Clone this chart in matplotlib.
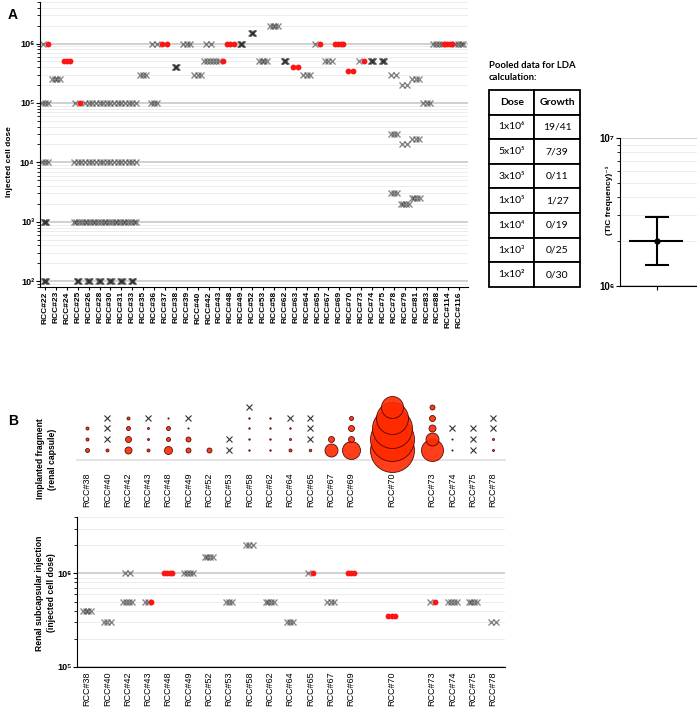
import matplotlib
matplotlib.use("Agg")
import matplotlib.pyplot as plt
import numpy as np
from matplotlib.ticker import LogLocator, NullFormatter

plt.rcParams['font.family'] = ['Liberation Sans', 'DejaVu Sans']

#--------------------------------------------------------------------
# panel A: cell-dose titration per patient (crosses = no growth, red = growth)
a_cases = ['RCC#22', 'RCC#23', 'RCC#24', 'RCC#25', 'RCC#26', 'RCC#28', 'RCC#30', 'RCC#31',
           'RCC#33', 'RCC#35', 'RCC#36', 'RCC#37', 'RCC#38', 'RCC#39', 'RCC#40', 'RCC#42',
           'RCC#43', 'RCC#48', 'RCC#49', 'RCC#52', 'RCC#53', 'RCC#58', 'RCC#62', 'RCC#63',
           'RCC#64', 'RCC#65', 'RCC#67', 'RCC#69', 'RCC#70', 'RCC#73', 'RCC#74', 'RCC#75',
           'RCC#78', 'RCC#79', 'RCC#81', 'RCC#83', 'RCC#88', 'RCC#114', 'RCC#116']

a_grp_case = ['RCC#22'] * 5 + ['RCC#23', 'RCC#24'] + ['RCC#25'] * 4 \
    + ['RCC#26'] * 4 + ['RCC#28'] * 4 + ['RCC#30'] * 4 + ['RCC#31'] * 4 + ['RCC#33'] * 4 \
    + ['RCC#35', 'RCC#36', 'RCC#36', 'RCC#37', 'RCC#38', 'RCC#39', 'RCC#40', 'RCC#42', 'RCC#42',
       'RCC#43', 'RCC#48', 'RCC#49', 'RCC#52', 'RCC#53', 'RCC#58', 'RCC#62', 'RCC#63', 'RCC#64',
       'RCC#65', 'RCC#67', 'RCC#69', 'RCC#70', 'RCC#73', 'RCC#74', 'RCC#75'] \
    + ['RCC#78'] * 3 + ['RCC#79'] * 3 + ['RCC#81'] * 3 + ['RCC#83', 'RCC#88', 'RCC#114', 'RCC#116']
a_grp_dose = [1e6, 1e5, 1e4, 1e3, 1e2, 2.5e5, 5e5, 1e5, 1e4, 1e3, 1e2] \
    + [1e5, 1e4, 1e3, 1e2] * 5 \
    + [3e5, 1e6, 1e5, 1e6, 4e5, 1e6, 3e5, 1e6, 5e5,
       5e5, 1e6, 1e6, 1.5e6, 5e5, 2e6, 5e5, 4e5, 3e5,
       1e6, 5e5, 1e6, 3.5e5, 5e5, 5e5, 5e5] \
    + [3e5, 3e4, 3e3, 2e5, 2e4, 2e3, 2.5e5, 2.5e4, 2.5e3, 1e5, 1e6, 1e6, 1e6]
a_grp_neg = [1, 3, 3, 5, 5, 4, 0, 1, 3, 4, 5] \
    + [3, 3, 4, 5] * 5 \
    + [3, 2, 3, 0, 5, 3, 3, 2, 4,
       2, 0, 5, 5, 4, 4, 5, 0, 3,
       1, 3, 0, 0, 1, 5, 5] \
    + [2, 3, 3, 2, 2, 4, 3, 3, 4, 3, 4, 0, 4]
a_grp_pos = [1, 0, 0, 0, 0, 0, 3, 1, 0, 0, 0] \
    + [0, 0, 0, 0] * 5 \
    + [0, 0, 0, 2, 0, 0, 0, 0, 0,
       1, 3, 0, 0, 0, 0, 0, 2, 0,
       1, 0, 4, 2, 1, 0, 0] \
    + [0, 0, 0, 0, 0, 0, 0, 0, 0, 0, 0, 4, 0]

# pooled table for LDA
lda_dose = ['1x10⁶', '5x10⁵', '3x10⁵', '1x10⁵', '1x10⁴', '1x10³', '1x10²']
lda_growth = ['19/41', '7/39', '0/11', '1/27', '0/19', '0/25', '0/30']

# TIC frequency estimate (inverse) with confidence interval
tic_est, tic_lo, tic_hi = 2.0e6, 1.39e6, 2.93e6

#--------------------------------------------------------------------
# panel B ('' = empty slot on the axis)
b_cases = ['RCC#38', 'RCC#40', 'RCC#42', 'RCC#43', 'RCC#48', 'RCC#49', 'RCC#52', 'RCC#53',
           'RCC#58', 'RCC#62', 'RCC#64', 'RCC#65', 'RCC#67', 'RCC#69', '', 'RCC#70', '',
           'RCC#73', 'RCC#74', 'RCC#75', 'RCC#78']
# bubble diameter (px) per implanted fragment, bottom to top; 0 = no growth
frag_sizes = [[4, 3, 3], [3, 0, 0, 0], [7, 6, 4, 3], [3, 2, 2, 0], [8, 4, 4, 1.2],
              [5, 5, 1.2, 0], [5], [0, 0], [1.5, 1.5, 1.5, 1.5, 0], [1.5, 1.5, 1.5, 1.5],
              [3, 2, 1.5, 0], [2.5, 0, 0, 0], [13, 6], [18, 6, 6, 4], [],
              [44, 44, 40, 32, 22], [], [22, 13, 7, 6, 5], [1.2, 1.2, 0], [0, 0, 0],
              [2, 2, 0, 0]]

b_grp_case = ['RCC#38', 'RCC#40', 'RCC#42', 'RCC#42', 'RCC#43', 'RCC#48', 'RCC#49', 'RCC#52',
              'RCC#53', 'RCC#58', 'RCC#62', 'RCC#64', 'RCC#65', 'RCC#67', 'RCC#69', 'RCC#70',
              'RCC#73', 'RCC#74', 'RCC#75', 'RCC#78']
b_grp_dose = [4e5, 3e5, 1e6, 5e5, 5e5, 1e6, 1e6, 1.5e6,
              5e5, 2e6, 5e5, 3e5, 1e6, 5e5, 1e6, 3.5e5,
              5e5, 5e5, 5e5, 3e5]
b_grp_neg = [4, 3, 2, 4, 2, 0, 4, 4, 3, 3, 4, 3, 1, 3, 0, 0, 1, 4, 4, 2]
b_grp_pos = [0, 0, 0, 0, 1, 4, 0, 0, 0, 0, 0, 0, 1, 0, 3, 3, 1, 0, 0, 0]

#--------------------------------------------------------------------
W, H = 697, 709
fig = plt.figure(figsize=(W / 100, H / 100), dpi=100)

SUP = str.maketrans('0123456789-', '⁰¹²³⁴⁵⁶⁷⁸⁹⁻')


def pow10(e):
    return '10' + str(e).translate(SUP)


def add_ax(l, t, r, b):
    # axes from pixel box (left, top, right, bottom)
    return fig.add_axes([l / W, 1 - b / H, (r - l) / W, (b - t) / H])


def style_log(ax, exps, fs=6.5):
    ax.set_yscale('log')
    ax.set_yticks([10.0 ** e for e in exps])
    ax.set_yticklabels([pow10(e) for e in exps], fontsize=fs, fontweight='bold')
    ax.yaxis.set_minor_locator(LogLocator(base=10, subs=np.arange(2, 10)))
    ax.yaxis.set_minor_formatter(NullFormatter())
    ax.grid(axis='y', which='major', color='#c8c8c8', lw=1.2)
    ax.grid(axis='y', which='minor', color='#ededed', lw=0.7)
    ax.set_axisbelow(True)
    for s in ['top', 'right']:
        ax.spines[s].set_visible(False)
    ax.tick_params(axis='y', which='major', length=3, width=0.8, pad=1)
    ax.tick_params(axis='y', which='minor', length=2, width=0.6)


def draw_groups(ax, cases, g_case, g_dose, g_neg, g_pos, px_unit):
    for c, d, nn, npos in zip(g_case, g_dose, g_neg, g_pos):
        x0 = cases.index(c)
        n = nn + npos
        if n == 1:
            half = 0
        elif n >= 5:
            half = 1.2
        else:
            half = 1.7 + 0.8 * (n - 1)
        xs = x0 + np.linspace(-half, half, n) / px_unit
        if nn:
            ax.plot(xs[:nn], [d] * nn, 'x', ls='none', color='#2b2b2b', alpha=0.55,
                    ms=4, mew=1.0, zorder=3)
        if npos:
            ax.plot(xs[nn:], [d] * npos, 'o', ls='none', color='#ff1414', ms=4.2,
                    mec='none', zorder=4)


#--------------------------------------------------------------------
# A: main dose plot
ax_a = add_ax(40, 2, 468, 287)
style_log(ax_a, [2, 3, 4, 5, 6])
ax_a.set_ylim(80, 5e6)
ax_a.set_xlim(-0.46, len(a_cases) - 0.2)
ax_a.set_xticks(range(len(a_cases)))
ax_a.set_xticklabels(a_cases, rotation=90, fontsize=6, fontweight='bold')
ax_a.tick_params(axis='x', length=2, pad=1)
draw_groups(ax_a, a_cases, a_grp_case, a_grp_dose, a_grp_neg, a_grp_pos, 10.9)
fig.text(10 / W, 1 - 162 / H, 'Injected cell dose', rotation=90, ha='center', va='center',
         fontsize=6, fontweight='bold')

# pooled table
fig.text(489 / W, 1 - 61 / H, 'Pooled data for LDA\ncalculation:', ha='left', va='top',
         fontsize=6.8, fontweight='bold', family=['Lato', 'DejaVu Sans'], linespacing=1.5)
ax_tab = add_ax(489, 90, 580, 287)
ax_tab.axis('off')
tab = ax_tab.table(cellText=[[d, g] for d, g in zip(lda_dose, lda_growth)],
                   colLabels=['Dose', 'Growth'], cellLoc='center', bbox=[0, 0, 1, 1])
tab.auto_set_font_size(False)
tab.set_fontsize(7.5)
for (r, c), cell in tab.get_celld().items():
    cell.set_linewidth(1.3)
    cell.get_text().set_fontfamily(['Lato', 'DejaVu Sans'])
    if r == 0:
        cell.get_text().set_fontweight('bold')

# TIC frequency
ax_t = add_ax(620, 138, 697, 286)
style_log(ax_t, [6, 7], fs=7)
ax_t.set_ylim(1e6, 1e7)
ax_t.set_xlim(-1, 1.08)
ax_t.set_xticks([0])
ax_t.set_xticklabels([''])
ax_t.tick_params(axis='x', length=3)
ax_t.errorbar([0], [tic_est], yerr=[[tic_est - tic_lo], [tic_hi - tic_est]], fmt='o',
              color='black', ms=3.5, lw=1.5, capsize=8.5, capthick=1.5, zorder=4)
ax_t.hlines(tic_est, -0.75, 0.7, color='black', lw=1.5, zorder=4)
fig.text(609 / W, 1 - 200 / H, '(TIC frequency)⁻¹', rotation=90, ha='center', va='center',
         fontsize=6, fontweight='bold')

#--------------------------------------------------------------------
# B top: implanted fragments
ax_bt = add_ax(77, 395, 505, 460)
ax_bt.set_xlim(-0.49, len(b_cases) - 0.41)
ax_bt.set_ylim(0.074, 6.09)
for s in ['top', 'right', 'left']:
    ax_bt.spines[s].set_visible(False)
ax_bt.spines['bottom'].set_color('#e0e0e0')
ax_bt.spines['bottom'].set_linewidth(1.2)
ax_bt.set_yticks([])
b_ticks = [i for i, c in enumerate(b_cases) if c]
ax_bt.set_xticks(b_ticks)
ax_bt.set_xticklabels([b_cases[i] for i in b_ticks], rotation=90, fontsize=6.5)
ax_bt.tick_params(axis='x', length=0, pad=9)
for i, sizes in enumerate(frag_sizes):
    for row, d in enumerate(sizes, start=1):
        if d == 0:
            ax_bt.plot(i, row, 'x', color='#333333', ms=5, mew=0.8, clip_on=False, zorder=3)
        else:
            ax_bt.scatter(i, row, s=(d * 0.72) ** 2, color='#ff2a00', alpha=0.9,
                          edgecolors=(0.25, 0, 0, 0.45), linewidths=0.6, clip_on=False, zorder=4)
fig.text(46.5 / W, 1 - 459 / H, 'Implanted fragment\n(renal capsule)', rotation=90,
         ha='center', va='center', fontsize=6.2, fontweight='bold', linespacing=1.5)

# B bottom: renal subcapsular injection
ax_bb = add_ax(77, 517, 505, 667)
style_log(ax_bb, [5, 6])
ax_bb.set_ylim(1e5, 4e6)
ax_bb.set_xlim(-0.49, len(b_cases) - 0.41)
ax_bb.set_xticks(b_ticks)
ax_bb.set_xticklabels([b_cases[i] for i in b_ticks], rotation=90, fontsize=6.5)
ax_bb.tick_params(axis='x', length=0, pad=3)
draw_groups(ax_bb, b_cases, b_grp_case, b_grp_dose, b_grp_neg, b_grp_pos, 20.3)
fig.text(45.5 / W, 1 - 593 / H, 'Renal subcapsular injection\n(injected cell dose)',
         rotation=90, ha='center', va='center', fontsize=6.2, fontweight='bold',
         linespacing=1.5)

fig.text(8 / W, 1 - 15 / H, 'A', ha='left', va='center', fontsize=10, fontweight='bold')
fig.text(8 / W, 1 - 421 / H, 'B', ha='left', va='center', fontsize=10, fontweight='bold')

fig.savefig('out.png', dpi=100)
